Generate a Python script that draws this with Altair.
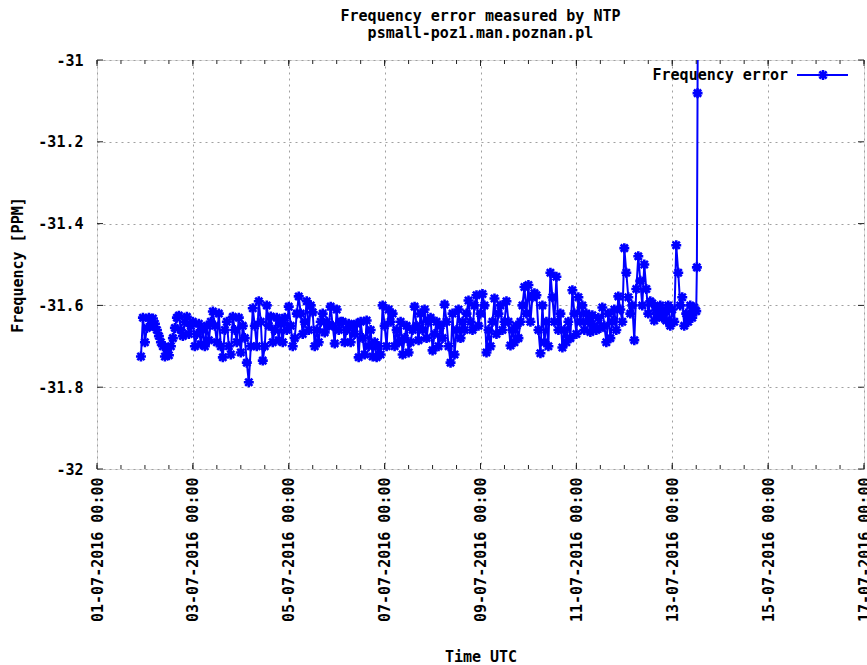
import altair as alt
import pandas as pd

# Frequency error samples (PPM), hourly starting 2016-07-01 22:00 UTC
freq_values = [
    -31.725, -31.630, -31.690, -31.655,
    -31.630, -31.650, -31.632,
    -31.645, -31.660, -31.675, -31.690, -31.700,
    -31.725, -31.705, -31.722, -31.700,
    -31.680, -31.655, -31.630,
    -31.625, -31.660, -31.675, -31.640, -31.628, -31.670, -31.650,
    -31.640, -31.700, -31.670, -31.645, -31.695, -31.660, -31.700, -31.650, -31.685, -31.640,
    -31.615, -31.650, -31.690, -31.620,
    -31.700, -31.727, -31.660, -31.640,
    -31.700, -31.720, -31.628, -31.660, -31.690, -31.630, -31.715, -31.650, -31.680,
    -31.740, -31.788, -31.700,
    -31.607, -31.650, -31.700,
    -31.590, -31.640, -31.735, -31.700, -31.600,
    -31.650, -31.627, -31.690, -31.660, -31.630, -31.685, -31.645, -31.690, -31.630, -31.660,
    -31.603, -31.650, -31.700, -31.680, -31.620,
    -31.578, -31.620, -31.670, -31.640, -31.590, -31.660, -31.600,
    -31.617, -31.700, -31.660, -31.690, -31.640,
    -31.620, -31.666, -31.640, -31.650,
    -31.603, -31.650, -31.693, -31.610, -31.660, -31.640,
    -31.640, -31.690, -31.660, -31.645, -31.690, -31.650, -31.670, -31.645,
    -31.727, -31.640, -31.680, -31.720, -31.637, -31.700, -31.660, -31.725, -31.690,
    -31.727, -31.700, -31.720,
    -31.600, -31.650, -31.700, -31.610, -31.640,
    -31.620, -31.700, -31.660, -31.690,
    -31.640, -31.720, -31.680, -31.650, -31.715, -31.690, -31.660,
    -31.603, -31.650, -31.685, -31.620, -31.660, -31.610, -31.680, -31.640,
    -31.630, -31.710, -31.670, -31.640, -31.700, -31.650, -31.680,
    -31.598, -31.640, -31.700, -31.740, -31.620, -31.720, -31.660,
    -31.610, -31.680, -31.640, -31.660, -31.620,
    -31.588, -31.640, -31.660, -31.600, -31.575, -31.650, -31.620, -31.572,
    -31.600, -31.715, -31.660, -31.700, -31.640,
    -31.583, -31.670, -31.620, -31.600, -31.660, -31.640, -31.590,
    -31.640, -31.698, -31.660, -31.690, -31.650, -31.680, -31.640,
    -31.600, -31.555, -31.620, -31.550, -31.640, -31.580, -31.570,
    -31.575, -31.660, -31.717, -31.600, -31.690, -31.640, -31.700,
    -31.520, -31.580, -31.640, -31.530, -31.660,
    -31.620, -31.703, -31.660, -31.690, -31.640, -31.680,
    -31.563, -31.620, -31.670, -31.580, -31.640, -31.600, -31.660, -31.620,
    -31.640, -31.665, -31.624, -31.650, -31.660, -31.630, -31.655,
    -31.605, -31.650, -31.690, -31.620, -31.680, -31.640, -31.610, -31.660,
    -31.578, -31.610, -31.640,
    -31.460, -31.520, -31.580, -31.620,
    -31.600, -31.685, -31.560,
    -31.480, -31.540, -31.600, -31.500,
    -31.560, -31.620, -31.590,
    -31.595, -31.637, -31.610, -31.625, -31.600, -31.630, -31.615, -31.637, -31.600,
    -31.650, -31.610, -31.640,
    -31.453, -31.520, -31.600,
    -31.580, -31.650, -31.620, -31.640, -31.600, -31.630,
    -31.605, -31.614,
]
spike_times = ["2016-07-13T12:20:00Z", "2016-07-13T12:40:00Z", "2016-07-13T13:00:00Z"]
spike_values = [-31.507, -31.081, -30.600]

y_ticks = [-32.0, -31.8, -31.6, -31.4, -31.2, -31.0]
title_lines = ["Frequency error measured by NTP", "psmall-poz1.man.poznan.pl"]

times = pd.date_range("2016-07-01 22:00", periods=len(freq_values), freq="1h", tz="UTC")
df = pd.DataFrame({
    "time": list(times.strftime("%Y-%m-%dT%H:%M:%SZ")) + spike_times,
    "freq": freq_values + spike_values,
})

def ms(s):
    return int(pd.Timestamp(s, tz="UTC").value // 10**6)

x_start, x_end = ms("2016-07-01"), ms("2016-07-17")
major_ms = [ms(t) for t in pd.date_range("2016-07-01", "2016-07-17", freq="2D")]
minor_ms = [ms(t) for t in pd.date_range("2016-07-01", "2016-07-17", freq="12h")]

FONT = "DejaVu Sans Mono"
W, H = 767, 409
BLUE = "#0000ff"
FRAME = "#222222"
STAR = "M-1,0L1,0M0,-1L0,1M-0.72,-0.72L0.72,0.72M-0.72,0.72L0.72,-0.72"
MSIZE = 100
MSTROKE = 2.6

xscale = alt.Scale(type="utc", domain=[x_start, x_end], nice=False)
yscale = alt.Scale(domain=[-32, -31], nice=False, zero=False)

xaxis = alt.Axis(
    values=major_ms, labelExpr="utcFormat(datum.value, '%d-%m-%Y %H:%M')",
    labelAngle=270, labelPadding=8, labelFont=FONT, labelFontSize=15, labelFontWeight="bold",
    labelColor="#000", ticks=False, tickSize=0, domain=False, grid=True, gridColor="#a0a0a0",
    gridDash=[2, 4], gridWidth=1, labelOverlap=False, labelFlush=False,
    title="Time UTC", titleFont=FONT, titleFontSize=15, titleFontWeight="bold", titleColor="#000",
    titleY=187, titleX=W / 2, titleAlign="center", titleBaseline="middle",
)
yaxis = alt.Axis(
    values=y_ticks, labelExpr="toString(datum.value)", labelPadding=14,
    labelFont=FONT, labelFontSize=15, labelFontWeight="bold", labelColor="#000",
    ticks=False, tickSize=0, domain=False, grid=True, gridColor="#a0a0a0", gridDash=[2, 4],
    gridWidth=1, labelOverlap=False, labelFlush=False,
    title="Frequency [PPM]", titleFont=FONT, titleFontSize=15, titleFontWeight="bold",
    titleColor="#000", titleAngle=270, titleX=-80, titleY=H / 2, titleAlign="center",
    titleBaseline="middle",
)

base = alt.Chart(df).encode(
    x=alt.X("time:T", scale=xscale, axis=xaxis),
    y=alt.Y("freq:Q", scale=yscale, axis=yaxis),
)
line = base.mark_line(color=BLUE, strokeWidth=2, clip=True)
pts = base.mark_point(shape=STAR, size=MSIZE, filled=False, strokeWidth=MSTROKE, color=BLUE,
                      opacity=1, clip=True)

yt_df = pd.DataFrame({"freq": y_ticks})
ytick_l = alt.Chart(yt_df).mark_rule(color=FRAME).encode(
    y=alt.Y("freq:Q", scale=yscale), x=alt.value(0), x2=alt.value(6))
ytick_r = alt.Chart(yt_df).mark_rule(color=FRAME).encode(
    y=alt.Y("freq:Q", scale=yscale), x=alt.value(W - 6), x2=alt.value(W))

maj_df = pd.DataFrame({"time": major_ms})
min_df = pd.DataFrame({"time": minor_ms})
xmaj_b = alt.Chart(maj_df).mark_rule(color=FRAME).encode(
    x=alt.X("time:T", scale=xscale), y=alt.value(H), y2=alt.value(H - 6))
xmaj_t = alt.Chart(maj_df).mark_rule(color=FRAME).encode(
    x=alt.X("time:T", scale=xscale), y=alt.value(0), y2=alt.value(6))
xmin_b = alt.Chart(min_df).mark_rule(color=FRAME).encode(
    x=alt.X("time:T", scale=xscale), y=alt.value(H), y2=alt.value(H - 4))
xmin_t = alt.Chart(min_df).mark_rule(color=FRAME).encode(
    x=alt.X("time:T", scale=xscale), y=alt.value(0), y2=alt.value(4))

leg_df = pd.DataFrame({"label": ["Frequency error"]})
leg_text = alt.Chart(leg_df).mark_text(
    font=FONT, fontSize=15, fontWeight="bold", align="right", baseline="middle", color="#000"
).encode(text="label:N", x=alt.value(691), y=alt.value(15))
leg_line = alt.Chart(leg_df).mark_rule(color=BLUE, strokeWidth=2).encode(
    x=alt.value(700), x2=alt.value(751), y=alt.value(15))
leg_pt = alt.Chart(leg_df).mark_point(shape=STAR, size=MSIZE, filled=False, strokeWidth=MSTROKE,
                                      color=BLUE, opacity=1).encode(
    x=alt.value(726), y=alt.value(15))

chart = alt.layer(
    line, pts, xmin_b, xmin_t, xmaj_b, xmaj_t, ytick_l, ytick_r, leg_line, leg_pt, leg_text
).properties(
    width=W, height=H,
    title=alt.TitleParams(text=title_lines, font=FONT, fontSize=15, fontWeight="bold",
                          color="#000", anchor="middle", offset=12, lineHeight=17),
    autosize=alt.AutoSizeParams(type="none"),
    padding={"left": 97, "top": 60, "right": 3, "bottom": 196},
).configure_view(
    stroke=FRAME, strokeWidth=1
).configure(background="white")

chart.save("out.html", embed_options={"renderer": "svg", "actions": False})
